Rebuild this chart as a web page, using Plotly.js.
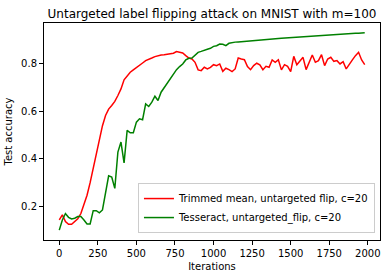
<!DOCTYPE html>
<html>
<head>
<meta charset="utf-8">
<script src="https://cdn.plot.ly/plotly-3.0.1.min.js"></script>
<style>html,body{margin:0;padding:0;background:#fff;}#chart{width:386px;height:278px;}</style>
</head>
<body>
<div id="chart"></div>
<script>
var iterations = [];
for (var i = 0; i < 100; i++) iterations.push(i * 20);

var trimmedMean = [
  0.143,0.164,0.136,0.125,0.125,0.136,0.148,0.170,0.205,0.247,
  0.300,0.360,0.420,0.485,0.540,0.583,0.610,0.625,0.642,0.667,
  0.695,0.733,0.750,0.765,0.775,0.786,0.793,0.804,0.814,0.821,
  0.825,0.831,0.835,0.838,0.839,0.842,0.842,0.845,0.852,0.849,
  0.846,0.835,0.825,0.821,0.807,0.775,0.772,0.786,0.779,0.786,
  0.797,0.793,0.800,0.769,0.782,0.776,0.768,0.779,0.825,0.821,
  0.818,0.789,0.776,0.793,0.803,0.796,0.776,0.790,0.786,0.817,
  0.807,0.818,0.775,0.797,0.790,0.768,0.832,0.797,0.811,0.828,
  0.776,0.807,0.838,0.807,0.814,0.839,0.793,0.821,0.828,0.811,
  0.814,0.800,0.810,0.779,0.800,0.817,0.835,0.849,0.817,0.797
];

var tesseract = [
  0.100,0.143,0.170,0.154,0.147,0.150,0.157,0.157,0.143,0.126,
  0.126,0.182,0.182,0.173,0.185,0.252,0.329,0.324,0.276,0.429,
  0.471,0.383,0.520,0.510,0.510,0.555,0.569,0.565,0.632,0.621,
  0.639,0.664,0.646,0.681,0.700,0.719,0.740,0.755,0.776,0.789,
  0.800,0.817,0.824,0.825,0.838,0.849,0.853,0.856,0.862,0.866,
  0.874,0.877,0.884,0.883,0.877,0.887,0.891,0.892,0.893,0.894,
  0.896,0.897,0.898,0.899,0.900,0.901,0.899,0.902,0.903,0.904,
  0.906,0.907,0.908,0.909,0.910,0.911,0.912,0.913,0.914,0.915,
  0.916,0.917,0.918,0.918,0.919,0.920,0.921,0.922,0.922,0.923,
  0.924,0.925,0.926,0.926,0.927,0.928,0.929,0.929,0.930,0.931
];

var seriesNames = ["Trimmed mean, untargeted flip, c=20", "Tesseract, untargeted_flip, c=20"];
var xTicks = [0, 250, 500, 750, 1000, 1250, 1500, 1750, 2000];
var yTicks = [0.2, 0.4, 0.6, 0.8];

function padRange(arr) {
  var mn = Math.min.apply(null, arr), mx = Math.max.apply(null, arr);
  var m = (mx - mn) * 0.05;
  return [mn - m, mx + m];
}
var xr = padRange(iterations);
var yr = padRange(trimmedMean.concat(tesseract));

var font = "DejaVu Sans, sans-serif";
var traces = [
  {x: iterations, y: trimmedMean, name: seriesNames[0], mode: "lines", line: {color: "#ff0000", width: 1.5}},
  {x: iterations, y: tesseract, name: seriesNames[1], mode: "lines", line: {color: "#008000", width: 1.5}}
];

var axisCommon = {
  showgrid: false, zeroline: false, showline: true, mirror: true,
  linecolor: "#000", linewidth: 1, ticks: "outside", ticklen: 4, tickwidth: 1, tickcolor: "#000",
  tickfont: {family: font, size: 10, color: "#000"}
};

var layout = {
  width: 386, height: 278,
  margin: {l: 44, r: 6, t: 23, b: 38},
  paper_bgcolor: "#fff", plot_bgcolor: "#fff",
  font: {family: font, size: 10, color: "#000"},
  title: {text: "Untargeted label flipping attack on MNIST with m=100", font: {family: font, size: 12, color: "#000"},
          x: 0.5, xref: "paper", y: 1 - 13.5/278, yref: "container", yanchor: "middle"},
  xaxis: Object.assign({}, axisCommon, {range: xr, tickvals: xTicks, ticktext: xTicks.map(String),
          title: {text: "Iterations", font: {family: font, size: 10, color: "#000"}, standoff: 4}}),
  yaxis: Object.assign({}, axisCommon, {range: yr, tickvals: yTicks, ticktext: yTicks.map(function(v){return v.toFixed(1);}),
          title: {text: "Test accuracy", font: {family: font, size: 10, color: "#000"}, standoff: 6}}),
  showlegend: true,
  legend: {x: 0.985, y: 0.032, xanchor: "right", yanchor: "bottom", bgcolor: "rgba(255,255,255,0.8)",
           bordercolor: "#cccccc", borderwidth: 1, font: {family: font, size: 10, color: "#000"}}
};

Plotly.newPlot("chart", traces, layout, {displayModeBar: false, staticPlot: true});
</script>
</body>
</html>
